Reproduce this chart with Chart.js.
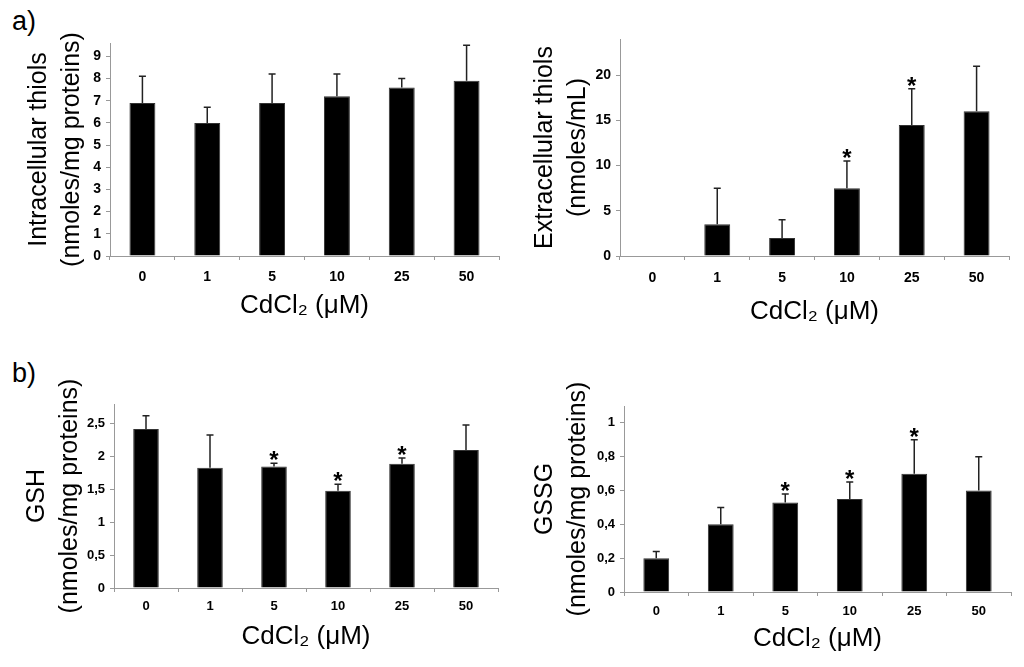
<!DOCTYPE html>
<html>
<head>
<meta charset="utf-8">
<script src="https://cdn.jsdelivr.net/npm/chart.js@4.4.0/dist/chart.umd.min.js"></script>
<style>
  body { margin: 0; background: #fff; width: 1024px; height: 667px; overflow: hidden; position: relative; font-family: "Liberation Sans", Arial, sans-serif; }
  .panel { position: absolute; }
  .tag { position: absolute; font-size: 27px; color: #000; }
</style>
</head>
<body>
<div class="tag" style="left:12px;top:6px;">a)</div>
<div class="tag" style="left:12px;top:358px;">b)</div>
<div class="panel" style="left:0;top:0;"><canvas id="c1" width="512" height="330"></canvas></div>
<div class="panel" style="left:512px;top:0;"><canvas id="c2" width="512" height="330"></canvas></div>
<div class="panel" style="left:0;top:330px;"><canvas id="c3" width="512" height="337"></canvas></div>
<div class="panel" style="left:512px;top:330px;"><canvas id="c4" width="512" height="337"></canvas></div>
<script>
// CdCl2 concentrations (uM)
var doses = ['0', '1', '5', '10', '25', '50'];

// a) intracellular thiols (nmoles/mg proteins)
var intraMean = [6.9, 6.0, 6.9, 7.2, 7.6, 7.9];
var intraTop  = [8.1, 6.7, 8.2, 8.2, 8.0, 9.5];
var intraStar = [false, false, false, false, false, false];

// a) extracellular thiols (nmoles/mL)
var extraMean = [0, 3.5, 2.0, 7.5, 14.5, 16.0];
var extraTop  = [null, 7.5, 4.0, 10.5, 18.5, 21.0];
var extraStar = [false, false, false, true, true, false];

// b) GSH (nmoles/mg proteins)
var gshMean = [2.42, 1.83, 1.85, 1.48, 1.89, 2.10];
var gshTop  = [2.62, 2.33, 1.90, 1.58, 1.98, 2.48];
var gshStar = [false, false, true, true, true, false];

// b) GSSG (nmoles/mg proteins)
var gssgMean = [0.20, 0.40, 0.53, 0.55, 0.70, 0.60];
var gssgTop  = [0.24, 0.50, 0.58, 0.65, 0.90, 0.80];
var gssgStar = [false, false, true, true, true, false];

var FONT = '"Liberation Sans", Arial, Helvetica, sans-serif';
var xTitle = 'CdCl\u2082 (\u03bcM)';

// error bars (upper half only) and significance stars
var errorBarPlugin = {
    id: 'errorBars',
    afterDatasetsDraw: function(chart) {
        var ctx = chart.ctx;
        var meta = chart.getDatasetMeta(0);
        var yScale = chart.scales.y;
        var tops = chart.options.plugins.errorBars.tops;
        var stars = chart.options.plugins.errorBars.stars;
        ctx.save();
        ctx.strokeStyle = '#222';
        ctx.lineWidth = 1.5;
        meta.data.forEach(function(bar, i) {
            var top = tops[i];
            if (top === null) return;
            var x = bar.x;
            var yTop = yScale.getPixelForValue(top);
            ctx.beginPath();
            ctx.moveTo(x, bar.y);
            ctx.lineTo(x, yTop);
            ctx.moveTo(x - 3.5, yTop);
            ctx.lineTo(x + 3.5, yTop);
            ctx.stroke();
            if (stars[i]) {
                ctx.fillStyle = '#000';
                ctx.font = 'bold 24px ' + FONT;
                ctx.textAlign = 'center';
                ctx.textBaseline = 'alphabetic';
                ctx.fillText('*', x, yTop + 5);
            }
        });
        ctx.restore();
    }
};

function makeChart(id, cfg) {
    var ctx = document.getElementById(id).getContext('2d');
    return new Chart(ctx, {
        type: 'bar',
        data: {
            labels: doses,
            datasets: [{
                data: cfg.mean,
                backgroundColor: '#000',
                borderColor: '#333',
                borderWidth: 1,
                barPercentage: 0.4,
                categoryPercentage: 1.0
            }]
        },
        options: {
            responsive: false,
            animation: false,
            layout: { padding: cfg.pad },
            plugins: {
                legend: { display: false },
                tooltip: { enabled: false },
                errorBars: { tops: cfg.tops, stars: cfg.stars }
            },
            scales: {
                x: {
                    grid: { display: true, drawOnChartArea: false, drawTicks: true, tickLength: 4, color: '#999', offset: true },
                    border: { display: true, color: '#999', width: 1 },
                    ticks: { color: '#000', padding: cfg.xPad, font: { family: FONT, size: cfg.tickSize, weight: 'bold' } },
                    title: { display: true, text: xTitle, color: '#000', padding: 0, font: { family: FONT, size: 26, lineHeight: 1.2 } },
                    afterFit: function(scale) { scale.height = cfg.xH; }
                },
                y: {
                    min: 0,
                    max: cfg.max,
                    grid: { display: true, drawOnChartArea: false, drawTicks: true, tickLength: 4, color: '#999' },
                    border: { display: true, color: '#999', width: 1 },
                    ticks: {
                        stepSize: cfg.step,
                        includeBounds: false,
                        color: '#000',
                        padding: 5,
                        font: { family: FONT, size: cfg.tickSize, weight: 'bold' },
                        callback: function(v) { return String(Math.round(v * 10) / 10).replace('.', ','); }
                    },
                    title: { display: true, text: cfg.yTitle, color: '#000', padding: 0, font: { family: FONT, size: 25, lineHeight: 1.3 } },
                    afterFit: function(scale) { scale.width = cfg.yW; }
                }
            }
        },
        plugins: [errorBarPlugin]
    });
}

makeChart('c1', {
    mean: intraMean, tops: intraTop, stars: intraStar,
    max: 9.6, step: 1, tickSize: 14, xPad: 9,
    yTitle: ['Intracellular thiols', '(nmoles/mg proteins)'],
    pad: { left: 23, top: 43, right: 13, bottom: 9 }, yW: 87, xH: 65
});

makeChart('c2', {
    mean: extraMean, tops: extraTop, stars: extraStar,
    max: 24, step: 5, tickSize: 14, xPad: 10,
    yTitle: ['Extracellular thiols', '(nmoles/mL)'],
    pad: { left: 17, top: 39, right: 15, bottom: 3 }, yW: 91, xH: 71
});

makeChart('c3', {
    mean: gshMean, tops: gshTop, stars: gshStar,
    max: 2.8, step: 0.5, tickSize: 13, xPad: 7,
    yTitle: ['GSH', '(nmoles/mg proteins)'],
    pad: { left: 21, top: 74, right: 14, bottom: 15 }, yW: 93, xH: 64
});

makeChart('c4', {
    mean: gssgMean, tops: gssgTop, stars: gssgStar,
    max: 1.1, step: 0.2, tickSize: 13, xPad: 8,
    yTitle: ['GSSG', '(nmoles/mg proteins)'],
    pad: { left: 17, top: 76, right: 13, bottom: 13 }, yW: 95, xH: 62
});
</script>
</body>
</html>
